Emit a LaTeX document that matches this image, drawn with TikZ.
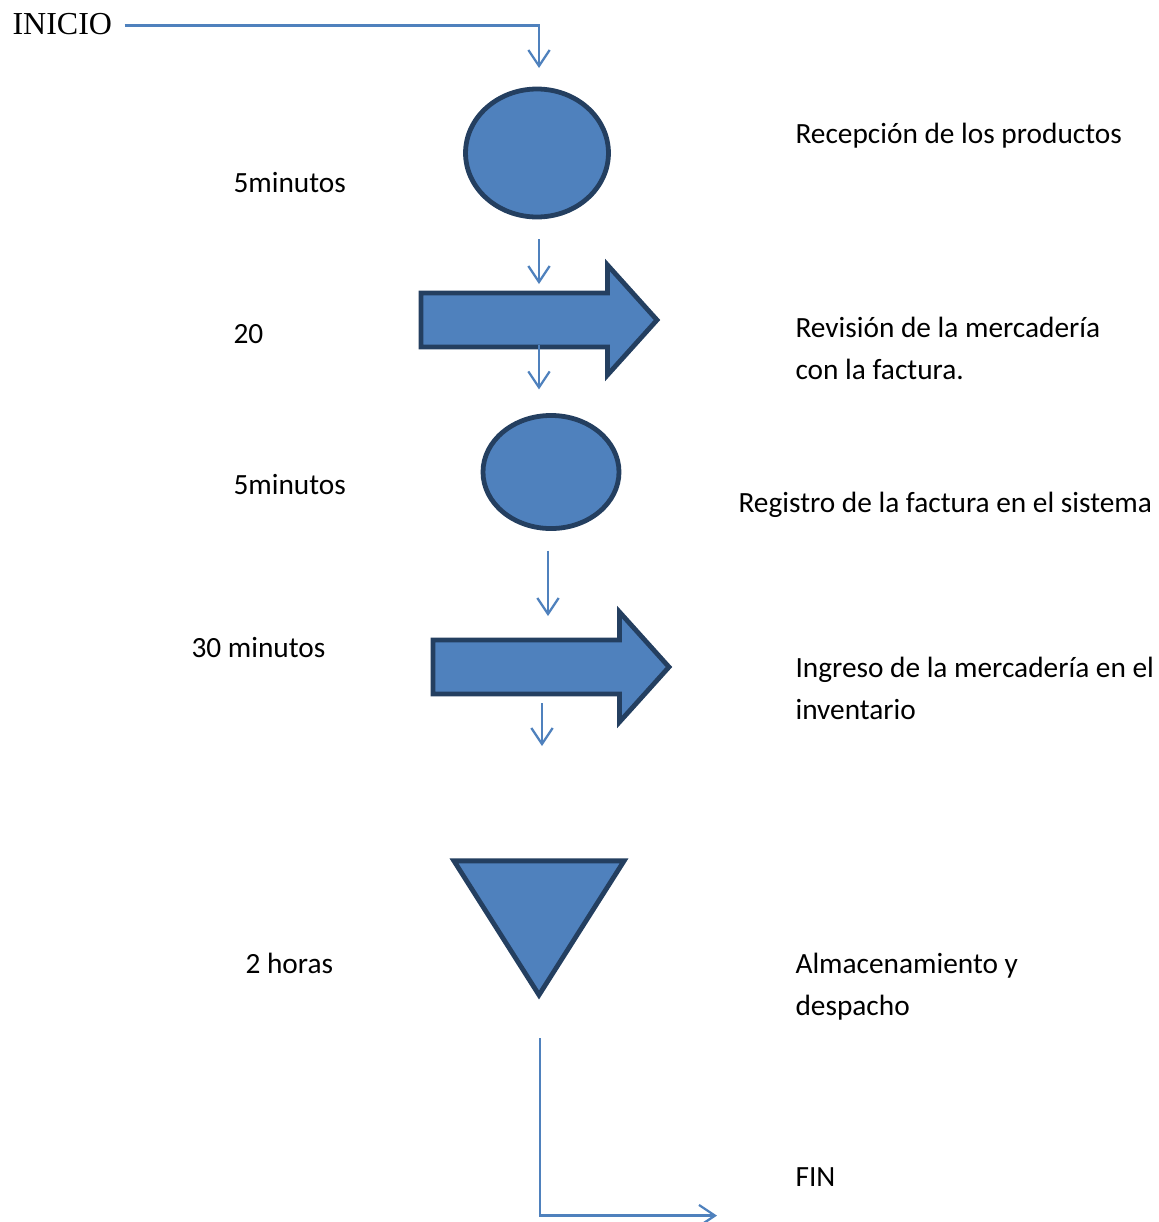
\documentclass[tikz,border=0pt]{standalone}
\usepackage{fontspec}
\setmainfont{Carlito}
\newfontfamily\timesfont{Liberation Serif}
\usepackage{tikz}
\usetikzlibrary{arrows.meta, positioning, calc, shapes.geometric, shapes.arrows}
\definecolor{flblue}{RGB}{79,129,189}
\definecolor{flnavy}{RGB}{36,63,96}
\tikzset{
    opnode/.style={ellipse, draw=flnavy, line width=1.8pt, fill=flblue, inner sep=0pt, outer sep=0pt},
    movenode/.style={single arrow, draw=flnavy, line width=1.8pt, fill=flblue, inner xsep=0pt,
                     inner ysep=9.2pt, text height=0pt, text depth=0pt, minimum height=88.5pt,
                     single arrow head extend=10.5pt, single arrow tip angle=96, outer sep=0pt},
    storenode/.style={isosceles triangle, isosceles triangle stretches, shape border rotate=-90,
                      draw=flnavy, line width=1.8pt, fill=flblue, inner sep=0pt, outer sep=0pt,
                      minimum width=63.8pt, minimum height=50.3pt},
    flow/.style={-{Straight Barb[length=6pt, width=8pt]}, line width=0.85pt, flblue},
    lbl/.style={anchor=base west, inner sep=0pt, align=left, font=\fontsize{11}{15.6}\selectfont},
}

\begin{document}
\begin{tikzpicture}[x=0.375pt, y=-0.375pt]
        \useasboundingbox (0,0) rectangle (1158,1222);
        \node[anchor=base west, inner sep=0pt, font=\timesfont\fontsize{12}{14}\selectfont] (ini) at (12,34) {INICIO};
        \node[opnode, minimum width=53.6pt, minimum height=48pt] (rec) at (537,153) {};
        \node[movenode, anchor=tip] (rev) at (657,320) {};
        \node[opnode, minimum width=51pt, minimum height=42.4pt] (reg) at (551,472) {};
        \node[movenode, anchor=tip] (ing) at (669,667) {};
        \node[storenode, anchor=apex] (alm) at (539,995) {};
        % tiempos
        \node[lbl] (t1) at (233,192) {5minutos};
        \node[lbl] (t2) at (233,343) {20};
        \node[lbl] (t3) at (233,494) {5minutos};
        \node[lbl] (t4) at (191,657) {30 minutos};
        \node[lbl] (t5) at (245,973) {2 horas};
        % actividades (base = last line)
        \node[lbl] (d1) at (795,143) {Recepción de los productos};
        \node[lbl] (d2) at (795,379) {Revisión de la mercadería\\con la factura.};
        \node[lbl] (d3) at (738,512) {Registro de la factura en el sistema};
        \node[lbl] (d4) at (795,719) {Ingreso de la mercadería en el\\inventario};
        \node[lbl] (d5) at (795,1015) {Almacenamiento y\\despacho};
        \node[lbl] (fin) at (795,1186) {FIN};
        \draw[flow] ($(ini.east)+(12,2)$) -| ($(rec.north)+(2,-21)$);
        \draw[flow] ($(rec.south)+(2,22)$) -- ($(rev.tip)+(-118,-36)$);
        \draw[flow] ($(rev.tip)+(-118,25)$) -- ($(reg.north)+(-12,-26)$);
        \draw[flow] ($(reg.south)+(-3,22)$) -- ($(ing.tip)+(-121,-51)$);
        \draw[flow] ($(ing.tip)+(-127,36)$) -- ++(0,43);
        \draw[flow] ($(alm.apex)+(1,43)$) |- ($(fin.west)+(-78,39)$);
    \end{tikzpicture}
\end{document}
